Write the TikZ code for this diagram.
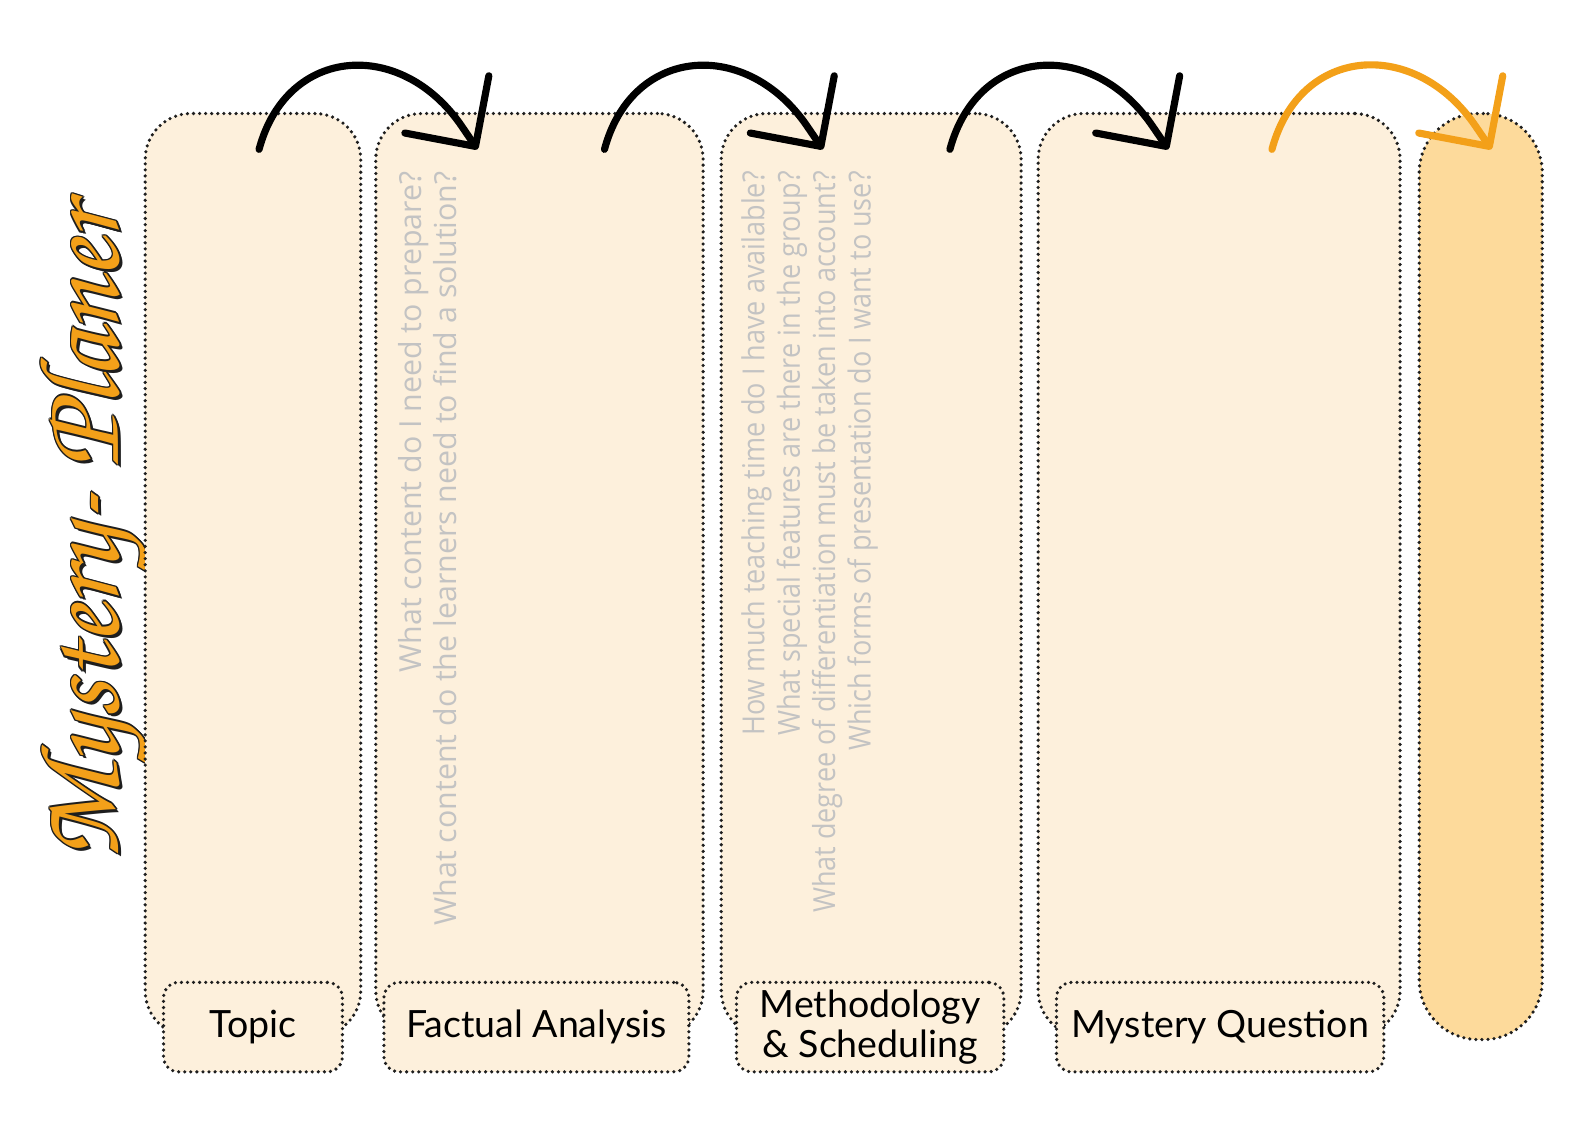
\documentclass[tikz,border=0pt]{standalone}
\usepackage[T1,TU]{fontenc}
\usepackage{fontspec}
\setmainfont{Lato}
\newfontfamily\qfont{Open Sans}
\newfontfamily\narrowqfont[FakeStretch=0.89]{Open Sans}
\usetikzlibrary{arrows.meta}
\definecolor{cream}{RGB}{253,240,220}
\definecolor{apricot}{RGB}{253,218,155}
\definecolor{planerorange}{RGB}{243,160,25}
\definecolor{dotgray}{RGB}{30,30,30}
\definecolor{qgray}{RGB}{195,195,195}
\newcommand{\planerfont}{\fontencoding{T1}\fontfamily{pzc}\fontseries{mb}\fontshape{it}\fontsize{32}{38}\selectfont}

\begin{document}
\begin{tikzpicture}[x=0.01cm,y=0.01cm,
  lane/.style={draw=dotgray,line width=1pt,dash pattern=on 0pt off 1.7pt,line cap=round,fill=cream,rounded corners=0.45cm,inner sep=0pt},
  tag/.style={lane,rounded corners=0.15cm,minimum height=0.88cm,font=\fontsize{10.5}{11}\selectfont,align=center},
  question/.style={rotate=90,anchor=north east,inner sep=0pt,align=right,text=qgray,font=\qfont\fontsize{8.5}{9.9}\selectfont},
  hop/.style={line width=2pt,line cap=round,line join=round,-{Straight Barb[length=0.5cm,width=1cm,round]},out=75,in=124,looseness=1.35}]
    \fill[white] (0,16.3) rectangle (1568,1125);
    \useasboundingbox (0,16.3) rectangle (1568,1125);

    \foreach \dx/\dy [count=\i] in {-1.5/0,1.5/0,0/-1.5,0/1.5,-1.2/-1.2,1.2/1.2,-1.2/1.2,1.2/-1.2,3/-3}
        \node[rotate=90,text=dotgray,font=\planerfont] (titleshade\i) at (94+\dx,600+\dy) {Mystery- Planer};
    \node[rotate=90,text=planerorange,font=\planerfont] (title) at (94,600) {Mystery- Planer};

    \node[lane,minimum width=2.12cm,minimum height=9.08cm] (topic) at (249,559) {};
    \node[lane,minimum width=3.22cm,minimum height=9.08cm] (factual) at (531,559) {};
    \node[lane,minimum width=2.95cm,minimum height=9.08cm] (method) at (857.5,559) {};
    \node[lane,minimum width=3.56cm,minimum height=9.08cm] (mystery) at (1200,559) {};
    \node[lane,fill=apricot,rounded corners=0.58cm,minimum width=1.21cm,minimum height=9.11cm] (final) at (1457.5,557.5) {};

    \node[question] (factualq) at (391,957) {What content do I need to prepare?\\What content do the learners need to find a solution?};
    \node[question,font=\narrowqfont\fontsize{8.5}{9.9}\selectfont] (methodq) at (729,957) {How much teaching time do I have available?\\What special features are there in the group?\\What degree of differentiation must be taken into account?\\Which forms of presentation do I want to use?};

    \node[tag,minimum width=1.76cm] (topictag) at (249,114) {Topic};
    \node[tag,minimum width=3.00cm] (factualtag) at (528,114) {Factual Analysis};
    \node[tag,minimum width=2.63cm] (methodtag) at (856.5,114) {Methodology\\\& Scheduling};
    \node[tag,minimum width=3.22cm] (mysterytag) at (1201,114) {Mystery Question};

    \coordinate (hop1s) at (255,978);
    \coordinate (hop1m) at (455,1000);
    \coordinate (hop1e) at (470,978);
    \coordinate (hop2s) at (595,978);
    \coordinate (hop2m) at (795,1000);
    \coordinate (hop2e) at (810,978);
    \coordinate (hop3s) at (935,978);
    \coordinate (hop3m) at (1135,1000);
    \coordinate (hop3e) at (1150,978);
    \coordinate (hop4s) at (1252,978);
    \coordinate (hop4m) at (1453,1000);
    \coordinate (hop4e) at (1468,978);
    \draw[hop] (hop1s) to (hop1m) -- (hop1e);
    \draw[hop] (hop2s) to (hop2m) -- (hop2e);
    \draw[hop] (hop3s) to (hop3m) -- (hop3e);
    \draw[hop,planerorange] (hop4s) to (hop4m) -- (hop4e);
\end{tikzpicture}
\end{document}
